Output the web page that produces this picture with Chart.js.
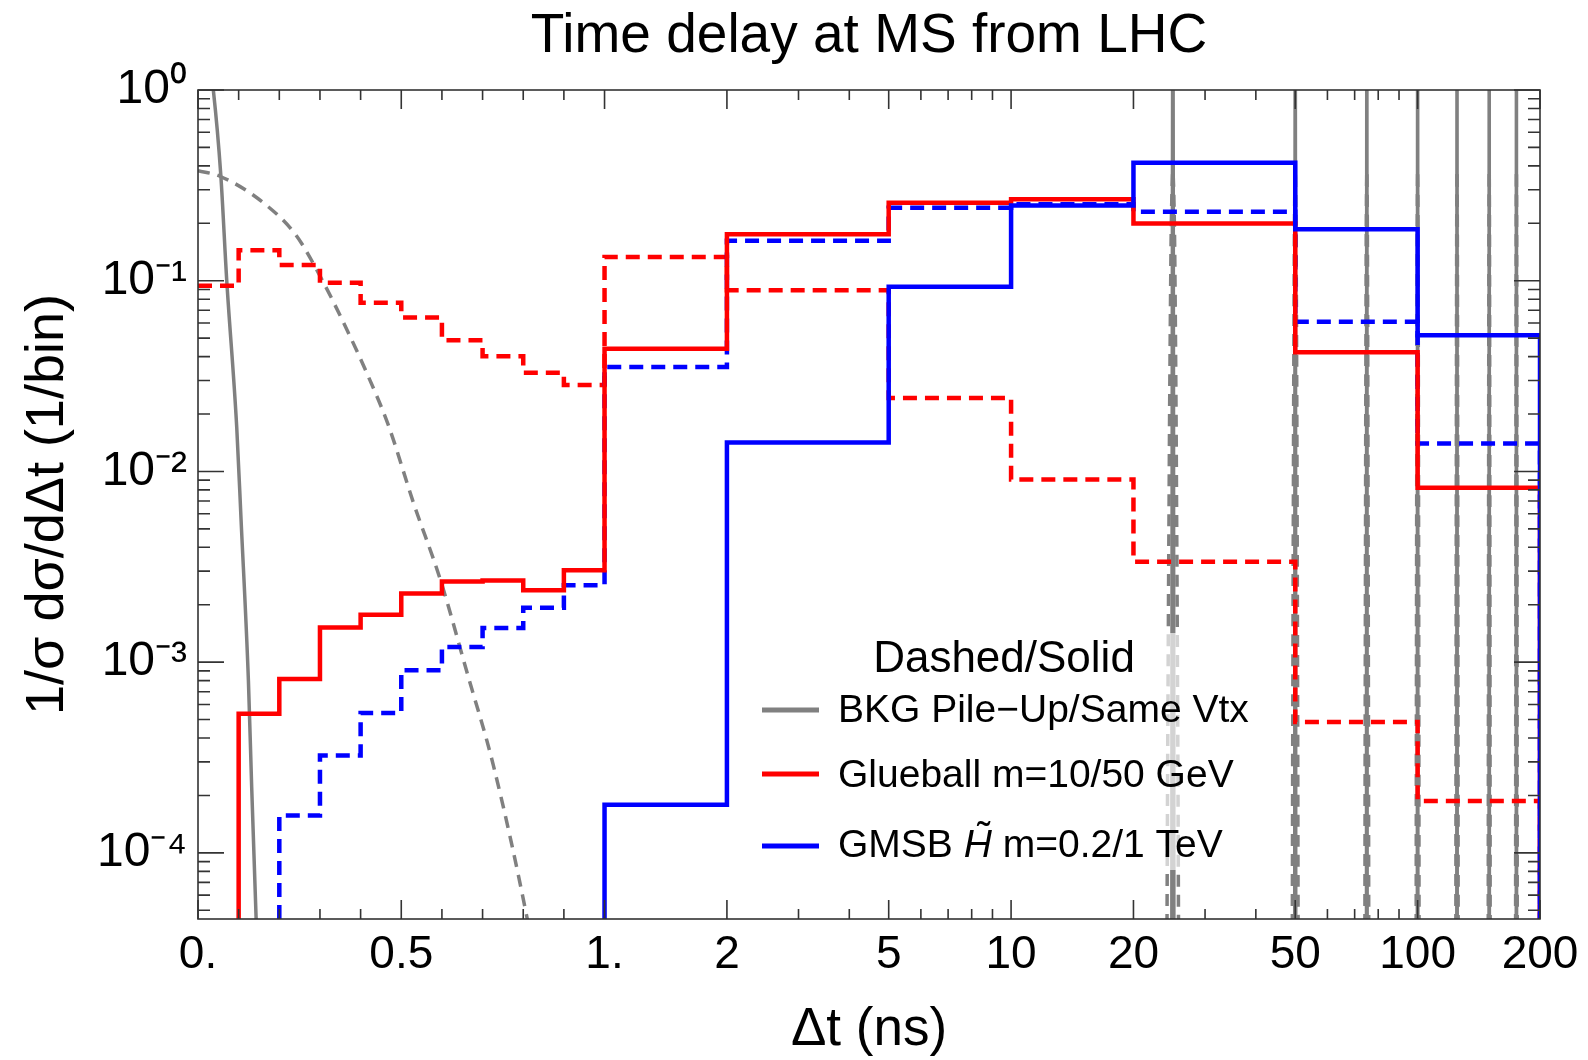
<!DOCTYPE html>
<html>
<head>
<meta charset="utf-8">
<title>Time delay at MS from LHC</title>
<script src="https://cdn.jsdelivr.net/npm/chart.js@4.4.1/dist/chart.umd.min.js"></script>
<style>
  html, body { margin: 0; padding: 0; background: #fff; }
  canvas { display: block; }
</style>
</head>
<body>
<canvas id="delayChart" width="1588" height="1060"></canvas>
<script>
// bin edges in ns: 0.1 ns bins up to 1 ns, then coarse bins
const binEdges = [0, 0.1, 0.2, 0.3, 0.4, 0.5, 0.6, 0.7, 0.8, 0.9, 1, 2, 5, 10, 20, 50, 100, 200];

// 1/sigma dsigma/ddt per bin, null = empty bin
const glueball10 = [0.094, 0.1445, 0.121, 0.0975, 0.0766, 0.0641, 0.0488, 0.0402, 0.0329, 0.0284,
  0.133, 0.0892, 0.0243, 0.00907, 0.00336, 0.000486, 0.000187];           // dashed
const glueball50 = [null, 0.000537, 0.000817, 0.00152, 0.00177, 0.00229, 0.00265, 0.00268, 0.00238, 0.00303,
  0.0440, 0.175, 0.256, 0.267, 0.1995, 0.0422, 0.0082];                    // solid
const gmsb02 = [null, null, 0.000157, 0.000324, 0.000542, 0.000907, 0.00120, 0.00151, 0.00193, 0.00253,
  0.0353, 0.162, 0.241, 0.252, 0.230, 0.0609, 0.0140];                     // dashed
const gmsb1 = [null, null, null, null, null, null, null, null, null, null,
  0.000179, 0.0142, 0.0929, 0.248, 0.415, 0.186, 0.0518];                  // solid

// background shapes: offset from a bunch crossing (ns) and value
const pileUpOffset = [0, 0.054, 0.161, 0.243, 0.309, 0.366, 0.415, 0.469, 0.530, 0.596, 0.662, 0.727, 0.810, 0.84];
const pileUpValue = [0.378, 0.353, 0.256, 0.171, 0.0975, 0.0555, 0.0329, 0.0173, 0.00684, 0.00271, 0.000879, 0.000285, 0.000045, 0.00002];
const sameVtxOffset = [0.030, 0.0377, 0.056, 0.0706, 0.0953, 0.1059, 0.124, 0.132, 0.143, 0.150];
const sameVtxValue = [1.3, 1.0, 0.36, 0.101, 0.017, 0.0056, 0.0008, 0.000223, 0.000045, 0.000015];
const bunchCrossings = [25, 50, 75, 100, 125, 150, 175];

const xTicks = [0, 0.5, 1, 2, 5, 10, 20, 50, 100, 200];
const xTickLabels = ['0.', '0.5', '1.', '2', '5', '10', '20', '50', '100', '200'];
const xMinorTicks = [0.1, 0.2, 0.3, 0.4, 0.6, 0.7, 0.8, 0.9, 3, 4, 6, 7, 8, 9, 30, 40, 60, 70, 80, 90];
const yTicks = [1e-4, 1e-3, 1e-2, 1e-1, 1];
const yTickLabels = ['10\u207B\u2074', '10\u207B\u00B3', '10\u207B\u00B2', '10\u207B\u00B9', '10\u2070'];

const FONT = "'Liberation Sans', Arial, Helvetica, sans-serif";
const GRAY = '#808080';
const FLOOR = 1e-7;
const Y_MIN = 4.5e-5;

// linear up to 1 ns, log above
const toU = t => (t <= 1 ? t : 1 + Math.log10(t));

function histPoints(values) {
  const pts = [];
  const first = values.findIndex(v => v !== null);
  if (first > 0) pts.push({ x: toU(binEdges[first]), y: FLOOR });
  for (let i = first; i < values.length; i++) pts.push({ x: toU(binEdges[i]), y: values[i] });
  pts.push({ x: toU(binEdges[values.length]), y: FLOOR });
  return pts;
}

function bunchPoints(offsets, values) {
  const pts = offsets.map((o, i) => ({ x: toU(o), y: values[i] }));
  const last = offsets.length - 1;
  bunchCrossings.forEach(c => {
    pts.push({ x: toU(c - offsets[last]) - 0.001, y: null });
    const stop = offsets[0] === 0 ? 1 : 0;
    for (let i = last; i >= stop; i--) pts.push({ x: toU(c - offsets[i]), y: values[i] });
    for (let i = 0; i <= last; i++) pts.push({ x: toU(c + offsets[i]), y: values[i] });
  });
  return pts;
}

function histSet(label, values, color, dashed) {
  return {
    label, data: histPoints(values),
    borderColor: color, borderWidth: 4.5, borderDash: dashed ? [14, 8] : [],
    pointRadius: 0, fill: false, stepped: 'before'
  };
}

const frameTicks = {
  id: 'frameTicks',
  afterDatasetsDraw(chart) {
    const { ctx, chartArea: a, scales: { x, y } } = chart;
    ctx.save();
    ctx.strokeStyle = '#333';
    ctx.lineWidth = 1.6;
    ctx.beginPath();
    const xt = (t, len) => {
      const px = x.getPixelForValue(toU(t));
      ctx.moveTo(px, a.bottom); ctx.lineTo(px, a.bottom - len);
      ctx.moveTo(px, a.top); ctx.lineTo(px, a.top + len);
    };
    xTicks.forEach(t => xt(t, 19));
    xMinorTicks.forEach(t => xt(t, 10));
    const yt = (v, len) => {
      const py = y.getPixelForValue(v);
      ctx.moveTo(a.left, py); ctx.lineTo(a.left + len, py);
      ctx.moveTo(a.right, py); ctx.lineTo(a.right - len, py);
    };
    yTicks.forEach(v => yt(v, 26));
    [1e-5, 1e-4, 1e-3, 1e-2, 1e-1].forEach(d => {
      for (let k = 2; k <= 9; k++) if (k * d >= Y_MIN) yt(k * d, 12);
    });
    ctx.stroke();
    ctx.strokeRect(a.left, a.top, a.right - a.left, a.bottom - a.top);
    ctx.restore();
  }
};

const boxLegend = {
  id: 'boxLegend',
  afterDatasetsDraw(chart) {
    const ctx = chart.ctx;
    ctx.save();
    ctx.fillStyle = 'rgba(255,255,255,0.65)';
    ctx.fillRect(748, 633, 502, 237);
    ctx.fillStyle = '#000';
    ctx.textBaseline = 'alphabetic';
    ctx.textAlign = 'center';
    ctx.font = '44px ' + FONT;
    ctx.fillText('Dashed/Solid', 1004, 672);
    ctx.textAlign = 'left';
    const rows = [
      { color: GRAY, ly: 710, base: 722, parts: [['BKG Pile\u2212Up/Same Vtx', false]] },
      { color: '#ff0000', ly: 774, base: 787, parts: [['Glueball m=10/50 GeV', false]] },
      { color: '#0000ff', ly: 846, base: 857, parts: [['GMSB ', false], ['H', true], [' m=0.2/1 TeV', false]] }
    ];
    rows.forEach(r => {
      ctx.strokeStyle = r.color;
      ctx.lineWidth = 5;
      ctx.beginPath();
      ctx.moveTo(762, r.ly); ctx.lineTo(819, r.ly);
      ctx.stroke();
      let px = 838;
      r.parts.forEach(([txt, italic]) => {
        ctx.font = (italic ? 'italic ' : '') + '39px ' + FONT;
        ctx.fillText(txt, px, r.base);
        const w = ctx.measureText(txt).width;
        if (italic) {
          ctx.font = '39px ' + FONT;
          ctx.textAlign = 'center';
          ctx.fillText('\u02DC', px + w / 2 + 6, r.base - 8);
          ctx.textAlign = 'left';
        }
        px += w;
      });
    });
    ctx.restore();
  }
};

new Chart(document.getElementById('delayChart'), {
  type: 'line',
  data: {
    datasets: [
      histSet('GMSB m=1 TeV', gmsb1, '#0000ff', false),
      histSet('Glueball m=50 GeV', glueball50, '#ff0000', false),
      histSet('GMSB m=0.2 TeV', gmsb02, '#0000ff', true),
      histSet('Glueball m=10 GeV', glueball10, '#ff0000', true),
      {
        label: 'BKG Same Vtx', data: bunchPoints(sameVtxOffset, sameVtxValue),
        borderColor: GRAY, borderWidth: 3.5, pointRadius: 0, fill: false,
        cubicInterpolationMode: 'monotone'
      },
      {
        label: 'BKG Pile-Up', data: bunchPoints(pileUpOffset, pileUpValue),
        borderColor: GRAY, borderWidth: 3.5, borderDash: [12, 8], pointRadius: 0, fill: false,
        cubicInterpolationMode: 'monotone'
      }
    ]
  },
  options: {
    responsive: false,
    animation: false,
    devicePixelRatio: 1,
    layout: { padding: { left: 0, right: 48, top: 0, bottom: 0 } },
    plugins: {
      legend: { display: false },
      tooltip: { enabled: false },
      title: {
        display: true,
        text: 'Time delay at MS from LHC',
        color: '#000',
        fullSize: false,
        font: { family: FONT, size: 55, weight: 'normal', lineHeight: 1.2 },
        padding: { top: 4, bottom: 20 }
      }
    },
    scales: {
      x: {
        type: 'linear',
        min: 0,
        max: toU(200),
        bounds: 'data',
        grid: { display: false, drawTicks: false },
        border: { display: false },
        afterBuildTicks: s => { s.ticks = xTicks.map(t => ({ value: toU(t) })); },
        afterFit: s => { s.height = 141; },
        ticks: {
          autoSkip: false, maxRotation: 0, minRotation: 0, padding: 9,
          color: '#000', font: { family: FONT, size: 46 },
          callback: (v, i) => xTickLabels[i]
        },
        title: {
          display: true, text: '\u0394t (ns)', color: '#000',
          font: { family: FONT, size: 53, lineHeight: 1.1 },
          padding: { top: 0, bottom: 0 }
        }
      },
      y: {
        type: 'logarithmic',
        min: Y_MIN,
        max: 1,
        bounds: 'data',
        grid: { display: false, drawTicks: false },
        border: { display: false },
        afterBuildTicks: s => { s.ticks = yTicks.map(v => ({ value: v })); },
        afterFit: s => { s.width = 198; },
        ticks: {
          autoSkip: false, padding: 11,
          color: '#000', font: { family: FONT, size: 48 },
          callback: (v, i) => yTickLabels[i]
        },
        title: {
          display: true, text: '1/\u03C3 d\u03C3/d\u0394t (1/bin)', color: '#000',
          font: { family: FONT, size: 54, lineHeight: 1.1 },
          padding: { top: 18, bottom: 0 }
        }
      }
    }
  },
  plugins: [frameTicks, boxLegend]
});
</script>
</body>
</html>
